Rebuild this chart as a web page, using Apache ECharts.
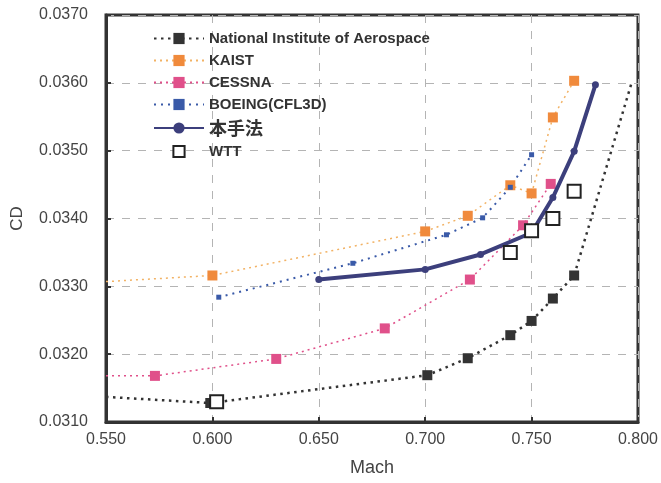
<!DOCTYPE html>
<html>
<head>
<meta charset="utf-8">
<script src="https://cdn.jsdelivr.net/npm/echarts@6/dist/echarts.min.js"></script>
<style>
    html, body { margin: 0; padding: 0; background: #fff; }
    #chart { width: 661px; height: 483px; }
</style>
</head>
<body>
<div id="chart"></div>
<script>
    // data (Mach, CD)
    var niaMach = [0.550, 0.599, 0.701, 0.720, 0.740, 0.750, 0.760, 0.770, 0.797];
    var niaCd = [0.03137, 0.03128, 0.03169, 0.03194, 0.03228, 0.03249, 0.03282, 0.03316, 0.03600];

    var kaistMach = [0.550, 0.600, 0.700, 0.720, 0.740, 0.750, 0.760, 0.770];
    var kaistCd = [0.03307, 0.03316, 0.03381, 0.03404, 0.03449, 0.03437, 0.03549, 0.03603];

    var cessnaMach = [0.550, 0.573, 0.630, 0.681, 0.721, 0.746, 0.759];
    var cessnaCd = [0.03168, 0.03168, 0.03193, 0.03238, 0.03310, 0.03390, 0.03451];

    var boeingMach = [0.603, 0.666, 0.710, 0.727, 0.740, 0.750];
    var boeingCd = [0.03284, 0.03334, 0.03376, 0.03401, 0.03446, 0.03494];

    var ownMach = [0.650, 0.700, 0.726, 0.750, 0.760, 0.770, 0.780];
    var ownCd = [0.03310, 0.03325, 0.03347, 0.03379, 0.03431, 0.03499, 0.03597];

    var wttMach = [0.602, 0.740, 0.750, 0.760, 0.770];
    var wttCd = [0.03130, 0.03350, 0.03382, 0.03400, 0.03440];

    // end points that only carry the line, no marker
    var niaNoMark = [0.550, 0.797];
    var kaistNoMark = [0.550];
    var cessnaNoMark = [0.550];

    function pairs(xs, ys, noMark) {
        var out = [];
        for (var i = 0; i < xs.length; i++) {
            var item = {value: [xs[i], ys[i]]};
            if (noMark && noMark.indexOf(xs[i]) >= 0) {
                item.symbol = 'none';
            }
            out.push(item);
        }
        return out;
    }

    var chart = echarts.init(document.getElementById('chart'));

    var labelFont = 'Liberation Sans, Arial, sans-serif';

    var option = {
        backgroundColor: '#fff',
        animation: false,
        grid: {
            left: 106,
            right: 19,
            top: 15,
            bottom: 61,
            show: true,
            borderColor: '#333',
            borderWidth: 3,
            backgroundColor: 'transparent'
        },
        legend: {
            orient: 'vertical',
            left: 148,
            top: 26,
            itemWidth: 50,
            itemHeight: 14,
            itemGap: 7,
            textStyle: {
                fontSize: 15,
                fontWeight: 'bold',
                color: '#333',
                fontFamily: 'Liberation Sans, Arial, sans-serif',
                rich: {
                    cjk: {
                        fontSize: 18,
                        fontWeight: 'bold',
                        color: '#333',
                        fontFamily: '"Noto Sans CJK JP", sans-serif'
                    }
                }
            },
            formatter: function (name) {
                return name === '本手法' ? '{cjk|' + name + '}' : name;
            },
            data: ['National Institute of Aerospace', 'KAIST', 'CESSNA', 'BOEING(CFL3D)', '本手法', 'WTT']
        },
        xAxis: {
            type: 'value',
            min: 0.55,
            max: 0.8,
            interval: 0.05,
            name: 'Mach',
            nameLocation: 'middle',
            nameGap: 37,
            nameTextStyle: {fontSize: 18, color: '#444', fontFamily: labelFont},
            axisLine: {lineStyle: {color: '#333', width: 3}},
            axisTick: {inside: true, length: 5, lineStyle: {color: '#333', width: 2}},
            axisLabel: {
                fontSize: 16,
                color: '#444',
                margin: 10,
                fontFamily: labelFont,
                formatter: function (v) { return v.toFixed(3); }
            },
            splitLine: {lineStyle: {color: '#b4b4b4', type: [8, 8], width: 1}}
        },
        yAxis: {
            type: 'value',
            min: 0.031,
            max: 0.037,
            interval: 0.001,
            name: 'CD',
            nameLocation: 'middle',
            nameGap: 80,
            nameTextStyle: {fontSize: 17, color: '#444', fontFamily: labelFont},
            axisLine: {lineStyle: {color: '#333', width: 3}},
            axisTick: {inside: true, length: 5, lineStyle: {color: '#333', width: 2}},
            axisLabel: {
                fontSize: 16,
                color: '#444',
                margin: 18,
                fontFamily: labelFont,
                formatter: function (v) { return v.toFixed(4); }
            },
            splitLine: {lineStyle: {color: '#b4b4b4', type: [8, 8], width: 1}}
        },
        series: [
            {
                name: 'National Institute of Aerospace',
                type: 'line',
                data: pairs(niaMach, niaCd, niaNoMark),
                symbol: 'rect',
                symbolSize: 10,
                itemStyle: {color: '#333'},
                lineStyle: {color: '#333', width: 2.5, type: [2.5, 4.5]},
                z: 3
            },
            {
                name: 'KAIST',
                type: 'line',
                data: pairs(kaistMach, kaistCd, kaistNoMark),
                symbol: 'rect',
                symbolSize: 10,
                itemStyle: {color: '#f08a3c'},
                lineStyle: {color: '#f2b264', width: 1.5, type: [2, 4]},
                z: 3
            },
            {
                name: 'CESSNA',
                type: 'line',
                data: pairs(cessnaMach, cessnaCd, cessnaNoMark),
                symbol: 'rect',
                symbolSize: 10,
                itemStyle: {color: '#e0508a'},
                lineStyle: {color: '#e0508a', width: 1.5, type: [2, 4]},
                z: 3
            },
            {
                name: 'BOEING(CFL3D)',
                type: 'line',
                data: pairs(boeingMach, boeingCd),
                symbol: 'rect',
                symbolSize: 5,
                itemStyle: {color: '#3a5aa8'},
                lineStyle: {color: '#3a5aa8', width: 2, type: [2, 5]},
                z: 3
            },
            {
                name: '本手法',
                type: 'line',
                data: pairs(ownMach, ownCd),
                symbol: 'circle',
                symbolSize: 7,
                itemStyle: {color: '#3c3f7c'},
                lineStyle: {color: '#3c3f7c', width: 4},
                z: 4
            },
            {
                name: 'WTT',
                type: 'line',
                data: pairs(wttMach, wttCd),
                symbol: 'rect',
                symbolSize: 13,
                itemStyle: {color: '#fff', borderColor: '#222', borderWidth: 2},
                lineStyle: {opacity: 0, width: 0},
                z: 5
            }
        ]
    };

    chart.setOption(option);
</script>
</body>
</html>
